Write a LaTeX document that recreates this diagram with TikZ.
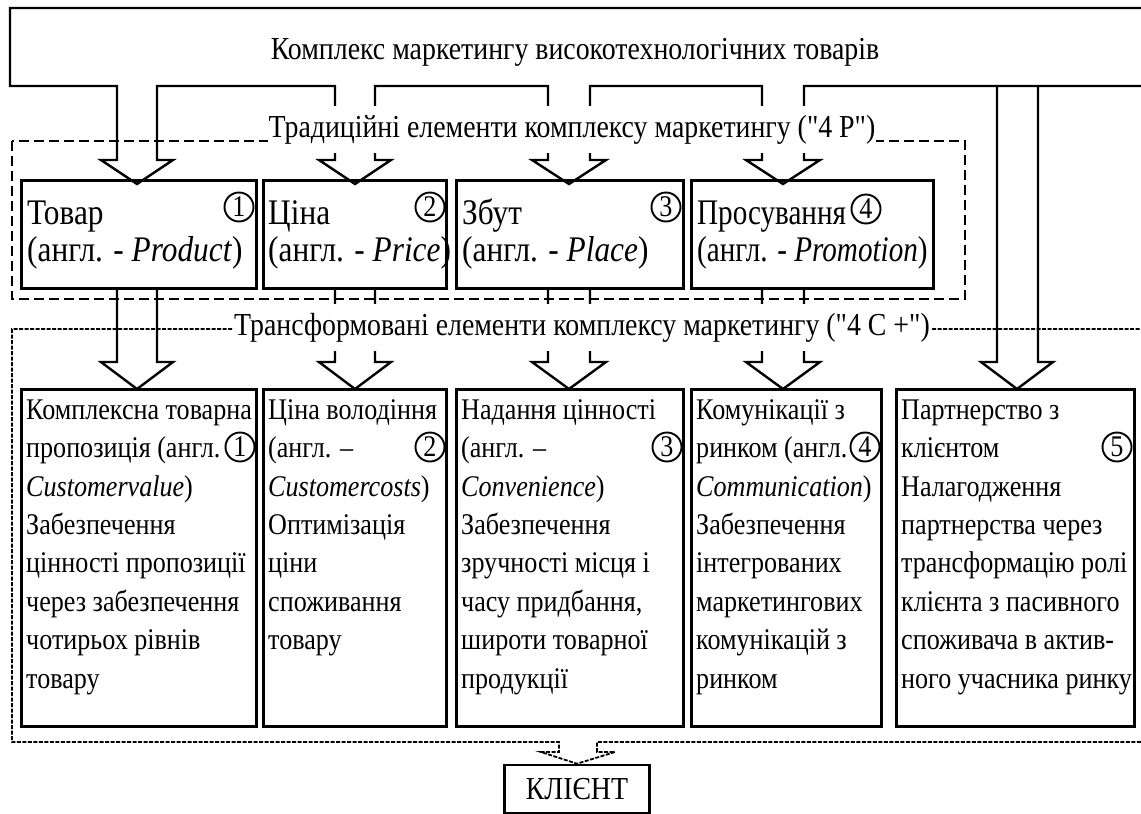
\documentclass[tikz,border=0pt]{standalone}
\usepackage{fontspec}
\setmainfont[FakeStretch=0.87]{Liberation Serif}
\newfontfamily\mainf[FakeStretch=0.87]{Liberation Serif}
\begin{document}
\begin{tikzpicture}[x=1pt,y=-1pt,
  pbox/.style={draw,line width=2.6pt,fill=white,anchor=north west,inner sep=0pt},
  pipe/.style={line width=2.4pt,line join=miter},
  num/.style={circle,draw,line width=1.9pt,inner sep=0pt,minimum size=29pt,font=\mainf\fontsize{30}{30}\selectfont},
  lbl/.style={fill=white,inner xsep=1pt,inner ysep=8pt,text height=24pt,text depth=7pt,font=\mainf\fontsize{32}{34}\selectfont},
  ttl/.style={font=\mainf\fontsize{32}{34}\selectfont},
  dashA/.style={line width=2pt,dash pattern=on 10pt off 5pt},
  dashB/.style={line width=1.8pt,dash pattern=on 4pt off 1.5pt},
  ptxt/.style={anchor=north west,inner sep=0pt,align=left,font=\mainf\fontsize{36}{37}\selectfont},
  ctxt/.style={anchor=north west,inner sep=0pt,align=left,font=\mainf\fontsize{30}{38.4}\selectfont},
]
\useasboundingbox (0,0) rectangle (1141,814);

% upper boxes
\node[pbox,minimum width=235pt,minimum height=108pt] (p1) at (20,179) {};
\node[pbox,minimum width=183pt,minimum height=108pt] (p2) at (262,179) {};
\node[pbox,minimum width=227pt,minimum height=108pt] (p3) at (455,179) {};
\node[pbox,minimum width=242pt,minimum height=108pt] (p4) at (690,179) {};
% lower boxes
\node[pbox,minimum width=235pt,minimum height=337pt] (c1) at (20,388) {};
\node[pbox,minimum width=183pt,minimum height=337pt] (c2) at (262,388) {};
\node[pbox,minimum width=227pt,minimum height=337pt] (c3) at (455,388) {};
\node[pbox,minimum width=190pt,minimum height=337pt] (c4) at (690,388) {};
\node[pbox,minimum width=238pt,minimum height=337pt] (c5) at (895,388) {};

% client
\node[draw,line width=2.6pt,minimum width=145pt,minimum height=48pt,font=\mainf\fontsize{32}{34}\selectfont] (k) at (577,789) {КЛІЄНТ};

% texts upper
\node[ptxt] (p1t) at (27,198) {\rule{0pt}{26pt}Товар\\(англ. - \textit{Product})};
\node[ptxt] (p2t) at (268,198) {\rule{0pt}{26pt}Ціна\\(англ. - \textit{Price})};
\node[ptxt] (p3t) at (462,198) {\rule{0pt}{26pt}Збут\\(англ. - \textit{Place})};
\node[ptxt,xscale=0.93] (p4t) at (697,198) {\rule{0pt}{26pt}Просування\\(англ. - \textit{Promotion})};
\node[num] (n1) at (239,207) {1};
\node[num] (n2) at (430,207) {2};
\node[num] (n3) at (666,207) {3};
\node[num] (n4) at (866,209) {4};

% texts lower
\node[ctxt] (c1t) at (26,397) {\rule{0pt}{22pt}Комплексна товарна\\пропозиція (англ.\\\textit{Customervalue})\\Забезпечення\\цінності пропозиції\\через забезпечення\\чотирьох рівнів\\товару};
\node[ctxt] (c2t) at (268,397) {\rule{0pt}{22pt}Ціна володіння\\(англ. –\\\textit{Customercosts})\\Оптимізація\\ціни\\споживання\\товару};
\node[ctxt] (c3t) at (461,397) {\rule{0pt}{22pt}Надання цінності\\(англ. –\\\textit{Convenience})\\Забезпечення\\зручності місця і\\часу придбання,\\широти товарної\\продукції};
\node[ctxt] (c4t) at (696,397) {\rule{0pt}{22pt}Комунікації з\\ринком (англ.\\\textit{Communication})\\Забезпечення\\інтегрованих\\маркетингових\\комунікацій з\\ринком};
\node[ctxt] (c5t) at (901,397) {\rule{0pt}{22pt}Партнерство з\\клієнтом\\Налагодження\\партнерства через\\трансформацію ролі\\клієнта з пасивного\\споживача в актив-\\ного учасника ринку};
\node[num] (m1) at (240,447) {1};
\node[num] (m2) at (430,447) {2};
\node[num] (m3) at (667,447) {3};
\node[num] (m4) at (865,447) {4};
\node[num] (m5) at (1117,447) {5};

% top pipe with arrows to the traditional elements
\draw[pipe] (1145,8) -- (10,8) -- (10,86) -- (117,86) -- (117,160) -- (101,160) -- (137,184) -- (173,160) -- (157,160) -- (157,86)
  -- (335,86) -- (335,160) -- (319,160) -- (355,184) -- (391,160) -- (375,160) -- (375,86)
  -- (548,86) -- (548,160) -- (532,160) -- (569,184) -- (606,160) -- (590,160) -- (590,86)
  -- (762,86) -- (762,160) -- (746,160) -- (783,184) -- (820,160) -- (804,160) -- (804,86) -- (1145,86);
% arrow to box 5
\draw[pipe] (997,86) -- (997,362) -- (981,362) -- (1017,389) -- (1053,362) -- (1038,362) -- (1038,86);
% arrows from upper to lower boxes
\draw[pipe] (117,287) -- (117,362) -- (101,362) -- (137,389) -- (173,362) -- (157,362) -- (157,287);
\draw[pipe] (335,287) -- (335,362) -- (319,362) -- (355,389) -- (391,362) -- (375,362) -- (375,287);
\draw[pipe] (548,287) -- (548,362) -- (532,362) -- (569,389) -- (606,362) -- (590,362) -- (590,287);
\draw[pipe] (762,287) -- (762,362) -- (746,362) -- (783,389) -- (820,362) -- (804,362) -- (804,287);

% group frames
\draw[dashA] (12,141) rectangle (965,299);
\draw[dashB] (1145,329) -- (12,329) -- (12,742) -- (559,742) -- (559,752) -- (541,752) -- (k.north) -- (615,752) -- (597,752) -- (597,742) -- (1145,742);

% labels
\node[ttl] (title) at (575,52) {Комплекс маркетингу високотехнологічних товарів};
\node[lbl] (lab1) at (572,129) {Традиційні елементи комплексу маркетингу ("4 P")};
\node[lbl] (lab2) at (582,327) {Трансформовані елементи комплексу маркетингу ("4 C +")};
\end{tikzpicture}
\end{document}
